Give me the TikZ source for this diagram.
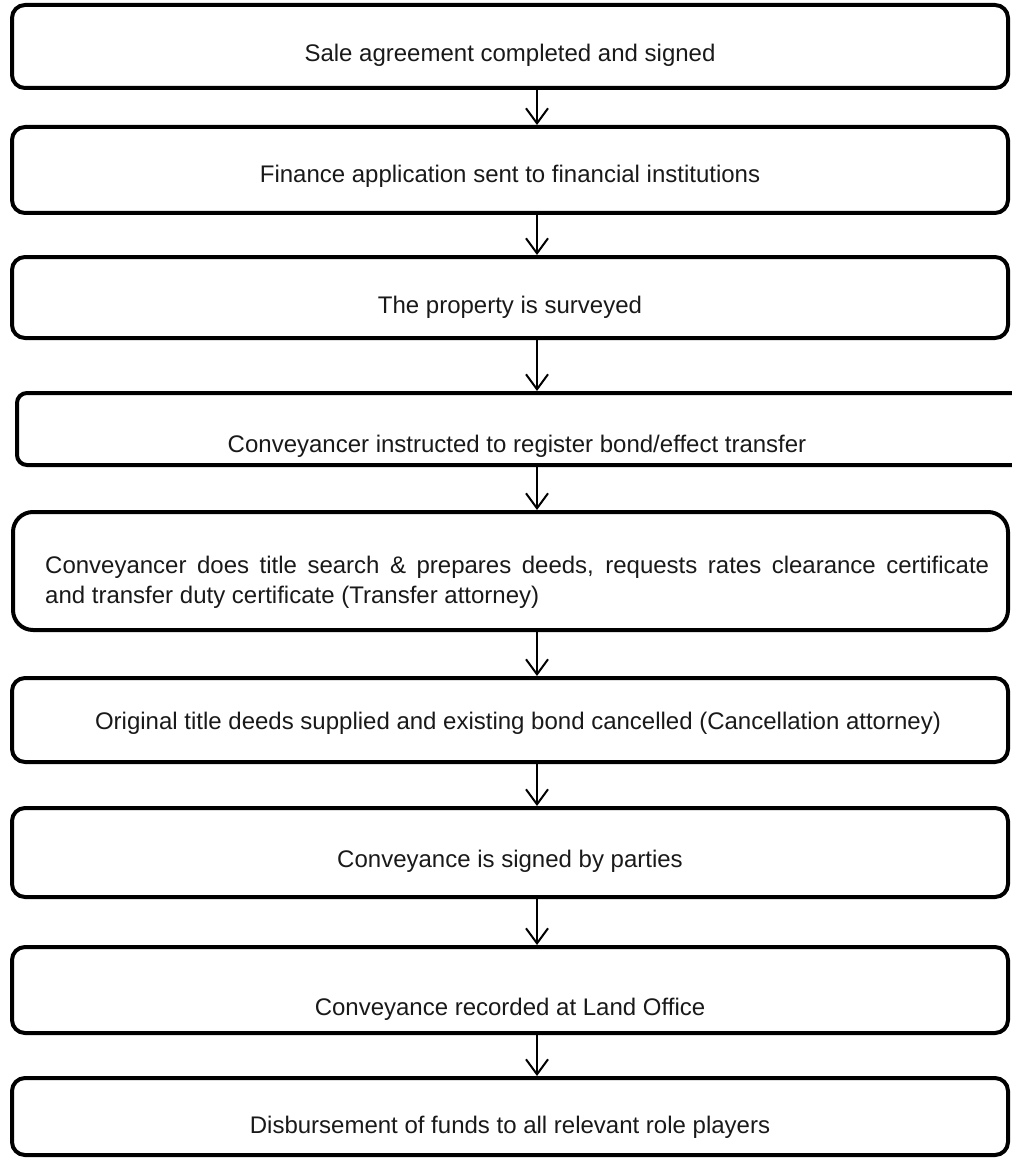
\documentclass[tikz,border=0pt]{standalone}
\usepackage{fontspec}
\setmainfont{Liberation Sans}
\usetikzlibrary{arrows.meta}
\begin{document}
\begin{tikzpicture}[x=1pt,y=-1pt,
  stepbox/.style={draw=black,line width=4pt,rounded corners=13pt,inner sep=0pt,
    minimum width=#1},
  stepbox/.default=996pt,
  steptext/.style={anchor=base,font=\fontsize{24}{27}\selectfont,inner sep=0pt,text=black!90},
  flow/.style={line width=2pt,-{Straight Barb[length=15pt,width=22pt,line width=2pt]}}]
\useasboundingbox (0,0) rectangle (1011,1158);
% boxes: (centre x, centre y), height
\node[stepbox,minimum height=83pt] (b1) at (510,46.5) {};
\node[stepbox,minimum height=86pt] (b2) at (510,170) {};
\node[stepbox,minimum height=81pt] (b3) at (510,297.5) {};
\node[stepbox=1013pt,minimum height=72pt,rounded corners=10pt] (b4) at (523.5,429) {};
\node[stepbox=995pt,minimum height=118pt,rounded corners=20pt] (b5) at (510.5,571) {};
\node[stepbox,minimum height=84pt] (b6) at (510,720) {};
\node[stepbox,minimum height=89pt] (b7) at (510,852.5) {};
\node[stepbox,minimum height=86pt] (b8) at (510,990) {};
\node[stepbox,minimum height=77pt] (b9) at (510,1116.5) {};
% texts
\node[steptext] (t1) at (510,62) {Sale agreement completed and signed};
\node[steptext] (t2) at (510,183) {Finance application sent to financial institutions};
\node[steptext] (t3) at (510,313) {The property is surveyed};
\node[steptext] (t4) at (517,452) {Conveyancer instructed to register bond/effect transfer};
\node[anchor=north west,font=\fontsize{24}{30}\selectfont,inner sep=0pt,text=black!90,
  text width=944pt,align=justify] (t5) at (45,556)
  {Conveyancer does title search \& prepares deeds, requests rates clearance certificate\linebreak
   and transfer duty certificate (Transfer attorney)};
\node[steptext] (t6) at (518,729) {Original title deeds supplied and existing bond cancelled (Cancellation attorney)};
\node[steptext] (t7) at (510,867) {Conveyance is signed by parties};
\node[steptext] (t8) at (510,1015) {Conveyance recorded at Land Office};
\node[steptext] (t9) at (510,1133) {Disbursement of funds to all relevant role players};
% connectors
\foreach \a/\b in {b1/b2,b2/b3,b3/b4,b4/b5,b5/b6,b6/b7,b7/b8,b8/b9}
  \draw[flow] (\a.south -| 537,0) -- (\b.north -| 537,0);
\end{tikzpicture}
\end{document}
